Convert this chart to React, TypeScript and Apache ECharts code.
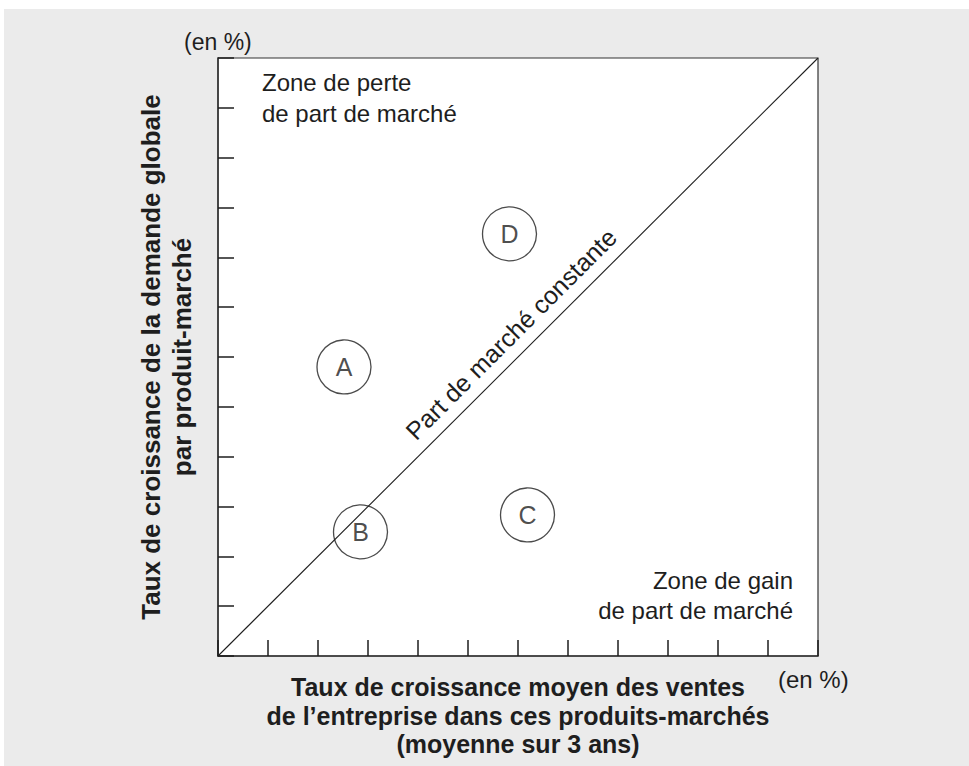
import React, { useEffect, useRef } from 'react';
import * as echarts from 'echarts';

// ---- data ----
const axisMin = 0;
const axisMax = 12;
const axisInterval = 1;
const pointNames = ['A', 'B', 'C', 'D'];
const pointX = [2.52, 2.85, 6.19, 5.83];
const pointY = [5.8, 2.49, 2.83, 8.47];
const diagonalX = [0, 12];
const diagonalY = [0, 12];

const xTitle = 'Taux de croissance moyen des ventes\nde l\u2019entreprise dans ces produits-marchés\n(moyenne sur 3 ans)';
const yTitle = 'Taux de croissance de la demande globale\npar produit-marché';
const unitLabel = '(en %)';
const lossZone = 'Zone de perte\nde part de marché';
const gainZone = 'Zone de gain\nde part de marché';
const diagonalLabel = 'Part de marché constante';

const FONT = '"Liberation Sans", Arial, Helvetica, sans-serif';
const INK = '#1e1e1e';

export default function App() {
  const ref = useRef<HTMLDivElement>(null);

  useEffect(() => {
    if (!ref.current) return;
    const chart = echarts.init(ref.current, null, { renderer: 'svg' });
    const axisCommon = {
      type: 'value',
      min: axisMin,
      max: axisMax,
      interval: axisInterval,
      axisLine: { show: true, onZero: false, lineStyle: { color: '#333', width: 1.5 } },
      axisTick: { show: true, inside: true, length: 16, lineStyle: { color: INK, width: 1.5 } },
      axisLabel: { show: false },
      splitLine: { show: false },
      nameLocation: 'middle',
    };
    chart.setOption({
      animation: false,
      backgroundColor: 'transparent',
      textStyle: { fontFamily: FONT },
      grid: {
        left: 218,
        top: 58,
        width: 600,
        height: 598,
        show: true,
        backgroundColor: '#fff',
        borderColor: '#333',
        borderWidth: 1.2,
      },
      xAxis: {
        ...axisCommon,
        name: xTitle,
        nameGap: 17,
        nameTextStyle: { fontSize: 25, fontWeight: 'bold', lineHeight: 28.5, color: INK, fontFamily: FONT },
      },
      yAxis: {
        ...axisCommon,
        name: yTitle,
        nameGap: 21,
        nameTextStyle: { fontSize: 26, fontWeight: 'bold', lineHeight: 31, color: INK, fontFamily: FONT },
      },
      series: [
        {
          type: 'line',
          data: diagonalX.map((x, i) => [x, diagonalY[i]]),
          symbol: 'none',
          silent: true,
          lineStyle: { color: INK, width: 1.1 },
        },
        {
          type: 'scatter',
          data: pointNames.map((n, i) => ({ name: n, value: [pointX[i], pointY[i]] })),
          symbol: 'circle',
          symbolSize: 54,
          itemStyle: { color: 'rgba(255,255,255,0)', borderColor: INK, borderWidth: 1.3 },
          label: {
            show: true,
            position: 'inside',
            formatter: (p: any) => p.name,
            fontSize: 25,
            color: INK,
            fontFamily: FONT,
          },
        },
      ],
      graphic: [
        {
          type: 'text',
          left: 184,
          top: 30,
          style: { text: unitLabel, fontSize: 23, fill: INK, fontFamily: FONT },
        },
        {
          type: 'text',
          x: 778,
          y: 679,
          style: { text: unitLabel, fontSize: 24, fill: INK, fontFamily: FONT, verticalAlign: 'middle', align: 'left' },
        },
        {
          type: 'text',
          x: 262,
          y: 98,
          style: { text: lossZone, fontSize: 24, lineHeight: 31, fill: INK, fontFamily: FONT, verticalAlign: 'middle', align: 'left' },
        },
        {
          type: 'text',
          x: 793,
          y: 595,
          style: { text: gainZone, fontSize: 24, lineHeight: 30, fill: INK, fontFamily: FONT, verticalAlign: 'middle', align: 'right' },
        },
        {
          type: 'text',
          x: 511,
          y: 334,
          rotation: Math.PI / 4,
          style: { text: diagonalLabel, fontSize: 25, fill: INK, fontFamily: FONT, verticalAlign: 'middle', align: 'center' },
        },
      ],
    });
    return () => chart.dispose();
  }, []);

  return (
    <div style={{ position: 'absolute', left: 0, top: 0, width: 969, height: 766, background: '#fff', overflow: 'hidden' }}>
      <div style={{ position: 'absolute', left: 4, top: 9, width: 965, height: 757, background: '#ebebeb' }} />
      <div ref={ref} style={{ position: 'absolute', left: 0, top: 0, width: 969, height: 766 }} />
    </div>
  );
}
